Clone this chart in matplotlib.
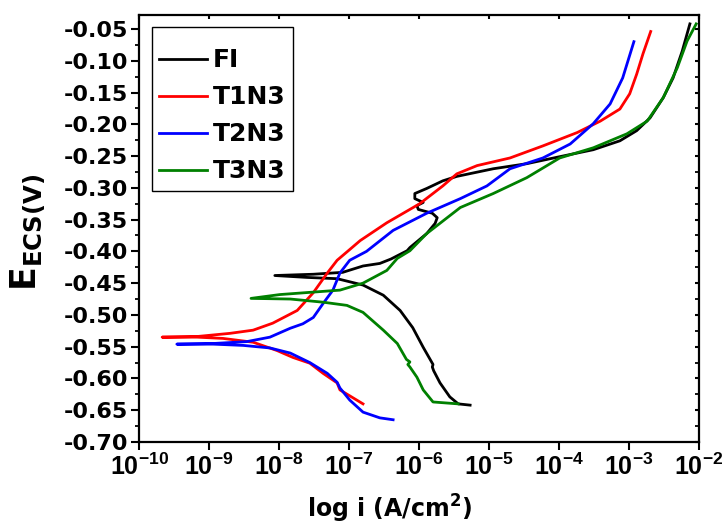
import numpy as np
import matplotlib
matplotlib.use('Agg')
import matplotlib.pyplot as plt
from matplotlib.ticker import MultipleLocator, FixedLocator, NullLocator, FuncFormatter

plt.rcParams['font.family'] = ['DejaVu Sans']
plt.rcParams['font.weight'] = 'bold'
plt.rcParams['mathtext.fontset'] = 'custom'
plt.rcParams['mathtext.bf'] = 'DejaVu Sans:bold'
plt.rcParams['mathtext.rm'] = 'DejaVu Sans:bold'
plt.rcParams['mathtext.sf'] = 'Liberation Sans:bold'

# log10 of current density (A/cm2) and potential E (V vs ECS)
fi_logi = [-5.27, -5.44, -5.56, -5.70, -5.79, -5.81, -5.80, -5.94, -6.09, -6.27, -6.51, -6.80, -7.17, -7.60, -8.06,
           -7.51, -7.09, -6.80, -6.56, -6.40, -6.17, -6.13, -5.89, -5.77, -5.74, -5.81, -6.01, -6.03, -5.94, -6.06,
           -6.06, -5.89, -5.66, -5.46, -4.94, -4.46, -3.99, -3.51, -3.13, -2.89, -2.70, -2.51, -2.37, -2.24, -2.13]
fi_e = [-0.642, -0.640, -0.629, -0.607, -0.588, -0.582, -0.578, -0.551, -0.520, -0.493, -0.469, -0.453, -0.443, -0.441, -0.438,
        -0.436, -0.433, -0.423, -0.419, -0.412, -0.399, -0.394, -0.372, -0.356, -0.347, -0.340, -0.334, -0.328, -0.323, -0.317,
        -0.309, -0.301, -0.289, -0.282, -0.270, -0.262, -0.251, -0.240, -0.226, -0.210, -0.190, -0.158, -0.127, -0.085, -0.042]

t1_logi = [-6.80, -6.95, -7.13, -7.17, -7.37, -7.56, -7.80, -8.03, -8.37, -8.80, -9.17, -9.67,
           -9.17, -8.70, -8.37, -8.09, -7.74, -7.51, -7.31, -7.17, -7.01, -6.84, -6.46, -5.99, -5.66, -5.46,
           -5.17, -4.70, -4.23, -3.74, -3.41, -3.13, -2.99, -2.89, -2.80, -2.69]
t1_e = [-0.640, -0.630, -0.618, -0.607, -0.592, -0.576, -0.567, -0.556, -0.543, -0.537, -0.535, -0.535,
        -0.534, -0.529, -0.524, -0.513, -0.493, -0.465, -0.434, -0.414, -0.399, -0.383, -0.355, -0.325, -0.297, -0.278,
        -0.265, -0.253, -0.234, -0.213, -0.195, -0.176, -0.152, -0.121, -0.089, -0.054]

t2_logi = [-6.37, -6.56, -6.80, -6.99, -7.13, -7.17, -7.31, -7.56, -7.84, -8.13, -8.51, -8.94, -9.46,
           -8.94, -8.46, -8.13, -7.84, -7.66, -7.51, -7.37, -7.23, -7.13, -6.99, -6.75, -6.37, -5.89, -5.41,
           -5.03, -4.70, -4.23, -3.84, -3.51, -3.27, -3.09, -2.93]
t2_e = [-0.665, -0.662, -0.653, -0.634, -0.615, -0.606, -0.592, -0.575, -0.560, -0.552, -0.548, -0.546, -0.546,
        -0.545, -0.542, -0.535, -0.521, -0.514, -0.504, -0.482, -0.461, -0.434, -0.414, -0.400, -0.367, -0.340, -0.317,
        -0.297, -0.270, -0.253, -0.231, -0.199, -0.168, -0.127, -0.070]

t3_logi = [-5.44, -5.80, -5.94, -6.03, -6.13, -6.16, -6.13, -6.18, -6.31, -6.51, -6.80, -7.03, -7.37, -7.84, -8.40,
           -7.99, -7.13, -6.80, -6.46, -6.31, -6.13, -5.89, -5.41, -4.94, -4.46, -3.99, -3.51, -3.03,
           -2.74, -2.51, -2.31, -2.17, -2.04]
t3_e = [-0.640, -0.637, -0.618, -0.598, -0.582, -0.578, -0.574, -0.570, -0.545, -0.524, -0.496, -0.485, -0.480, -0.475, -0.474,
        -0.468, -0.461, -0.450, -0.430, -0.411, -0.399, -0.372, -0.331, -0.309, -0.284, -0.253, -0.237, -0.215,
        -0.195, -0.158, -0.111, -0.069, -0.042]

labels = ['FI', 'T1N3', 'T2N3', 'T3N3']
colors = ['black', '#ff0000', '#0000ff', '#008000']
x_decades = np.arange(-10, -1)
y_ticks = np.arange(-0.70, -0.04, 0.05)

fig = plt.figure(figsize=(7.23, 5.26), dpi=100)
ax = fig.add_axes([0.1923, 0.1597, 0.7745, 0.8118])

curves = [(fi_logi, fi_e), (t1_logi, t1_e), (t2_logi, t2_e), (t3_logi, t3_e)]
for (li, e), lab, c in zip(curves, labels, colors):
    ax.plot(10.0 ** np.array(li), e, color=c, lw=2.0, label=lab)

ax.set_xscale('log')
ax.set_xlim(1e-10, 1e-2)
ax.set_ylim(-0.70, -0.028)

ax.xaxis.set_major_locator(FixedLocator(10.0 ** x_decades))
ax.xaxis.set_minor_locator(NullLocator())
ax.xaxis.set_major_formatter(FuncFormatter(lambda v, p: r'$\mathsf{10^{%d}}$' % round(np.log10(v))))
ax.yaxis.set_major_locator(FixedLocator(y_ticks))
ax.yaxis.set_minor_locator(MultipleLocator(0.025))
ax.yaxis.set_major_formatter(FuncFormatter(lambda v, p: '%.2f' % v))

for s in ax.spines.values():
    s.set_linewidth(1.6)
ax.tick_params(axis='both', which='major', direction='out', length=6, width=1.5)
ax.tick_params(axis='y', which='major', labelsize=16, pad=2)
ax.tick_params(axis='x', which='major', labelsize=18, pad=2)
ax.tick_params(axis='y', which='minor', direction='out', length=3, width=1.3)
ax.tick_params(top=True, right=True, which='both')
# top / right ticks are short and point inwards
for t in ax.xaxis.get_major_ticks():
    t.tick2line.set_marker(3)
    t.tick2line.set_markersize(3)
for t in ax.yaxis.get_major_ticks() + ax.yaxis.get_minor_ticks():
    t.tick2line.set_marker(0)
    t.tick2line.set_markersize(3)

ax.set_xlabel(r'log i (A/cm$^{\mathbf{2}}$)', fontsize=17, fontweight='bold')
ax.xaxis.set_label_coords(0.448, -0.118)
ax.set_ylabel(r'$\mathbf{E_{ECS(V)}}$', fontsize=25)
ax.yaxis.set_label_coords(-0.165, 0.49)

leg = ax.legend(loc='upper left', bbox_to_anchor=(0.023, 0.972), borderaxespad=0,
                fontsize=18, handlelength=1.9, handletextpad=0.25, labelspacing=0.52,
                borderpad=0.3, fancybox=False, framealpha=1, title=' ', title_fontsize=1)
leg.get_frame().set_edgecolor('black')
leg.get_frame().set_linewidth(1.0)
for l in leg.get_lines():
    l.set_linewidth(2.0)

fig.savefig('out.png', dpi=100)
